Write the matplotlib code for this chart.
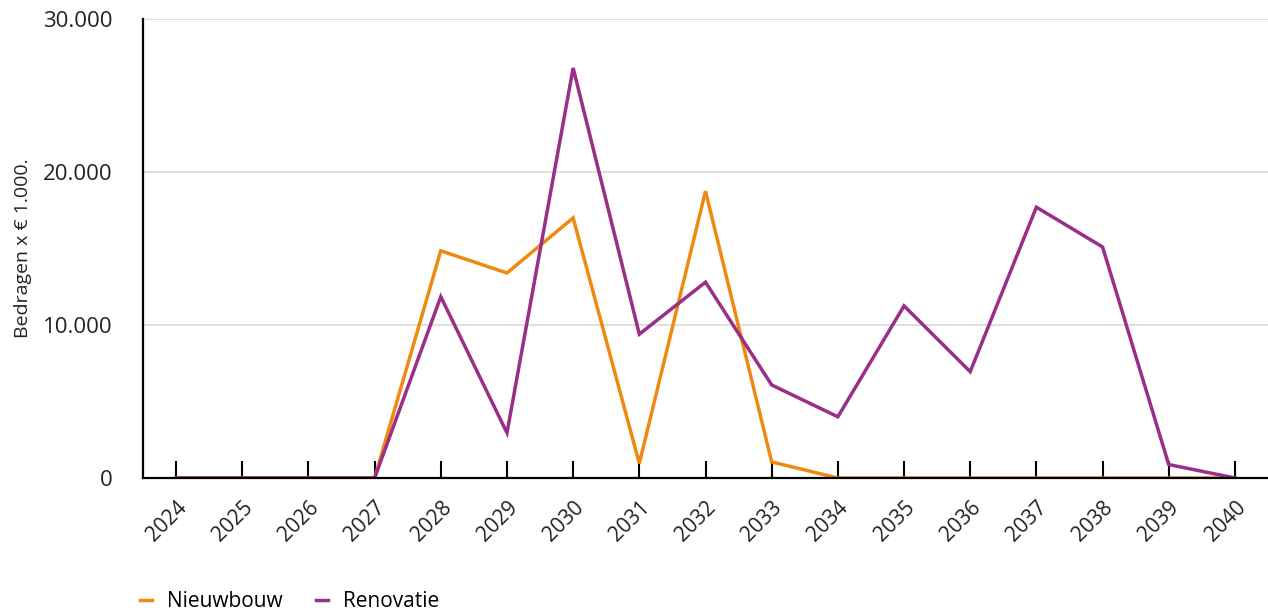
import matplotlib.pyplot as plt
from matplotlib.ticker import FuncFormatter

jaren = [str(j) for j in range(2024, 2041)]
nieuwbouw = [0, 0, 0, 0, 14850, 13400, 17000, 950, 18750, 1050, 0, 0, 0, 0, 0, 0, 0]
renovatie = [0, 0, 0, 0, 11850, 2950, 26800, 9400, 12800, 6080, 4000, 11250, 6950, 17700, 15100, 880, 0]

plt.rcParams["font.family"] = ["Open Sans", "DejaVu Sans"]

fig = plt.figure(figsize=(12.68, 6.11), dpi=100)
ax = fig.add_axes([143 / 1268, 1 - 478 / 611, 1 - 143 / 1268, (478 - 19) / 611])

x = list(range(len(jaren)))
ax.plot(x, nieuwbouw, color="#EE8A12", lw=2.5, label="Nieuwbouw", solid_joinstyle="miter")
ax.plot(x, renovatie, color="#9A2E88", lw=2.5, label="Renovatie", solid_joinstyle="miter")

ax.set_xlim(-0.5, len(jaren) - 0.5)
ax.set_ylim(0, 30000)
ax.set_yticks([0, 10000, 20000, 30000])
ax.yaxis.set_major_formatter(FuncFormatter(lambda v, p: f"{int(v):,}".replace(",", ".")))
ax.set_xticks(x)
ax.set_xticklabels(jaren, rotation=45, ha="right", rotation_mode="anchor")

ax.grid(axis="y", color="#d9d9d9", lw=1.2)
ax.set_axisbelow(True)
for s in ["top", "right"]:
    ax.spines[s].set_visible(False)
ax.spines["left"].set_linewidth(1.6)
ax.spines["bottom"].set_linewidth(1.6)
ax.tick_params(axis="y", length=0, pad=22, labelsize=16, colors="#222222")
ax.tick_params(axis="x", direction="in", length=12, width=1.5, pad=14, labelsize=15, labelcolor="#222222")

ax.set_ylabel("Bedragen x € 1.000.", fontsize=14, color="#222222", labelpad=8)

fig.legend(loc="center left", bbox_to_anchor=(0.0955, 0.015), ncol=2, frameon=False,
           handlelength=0.6, handletextpad=0.7, columnspacing=1.6, fontsize=15)

fig.savefig("out.png", dpi=100)
